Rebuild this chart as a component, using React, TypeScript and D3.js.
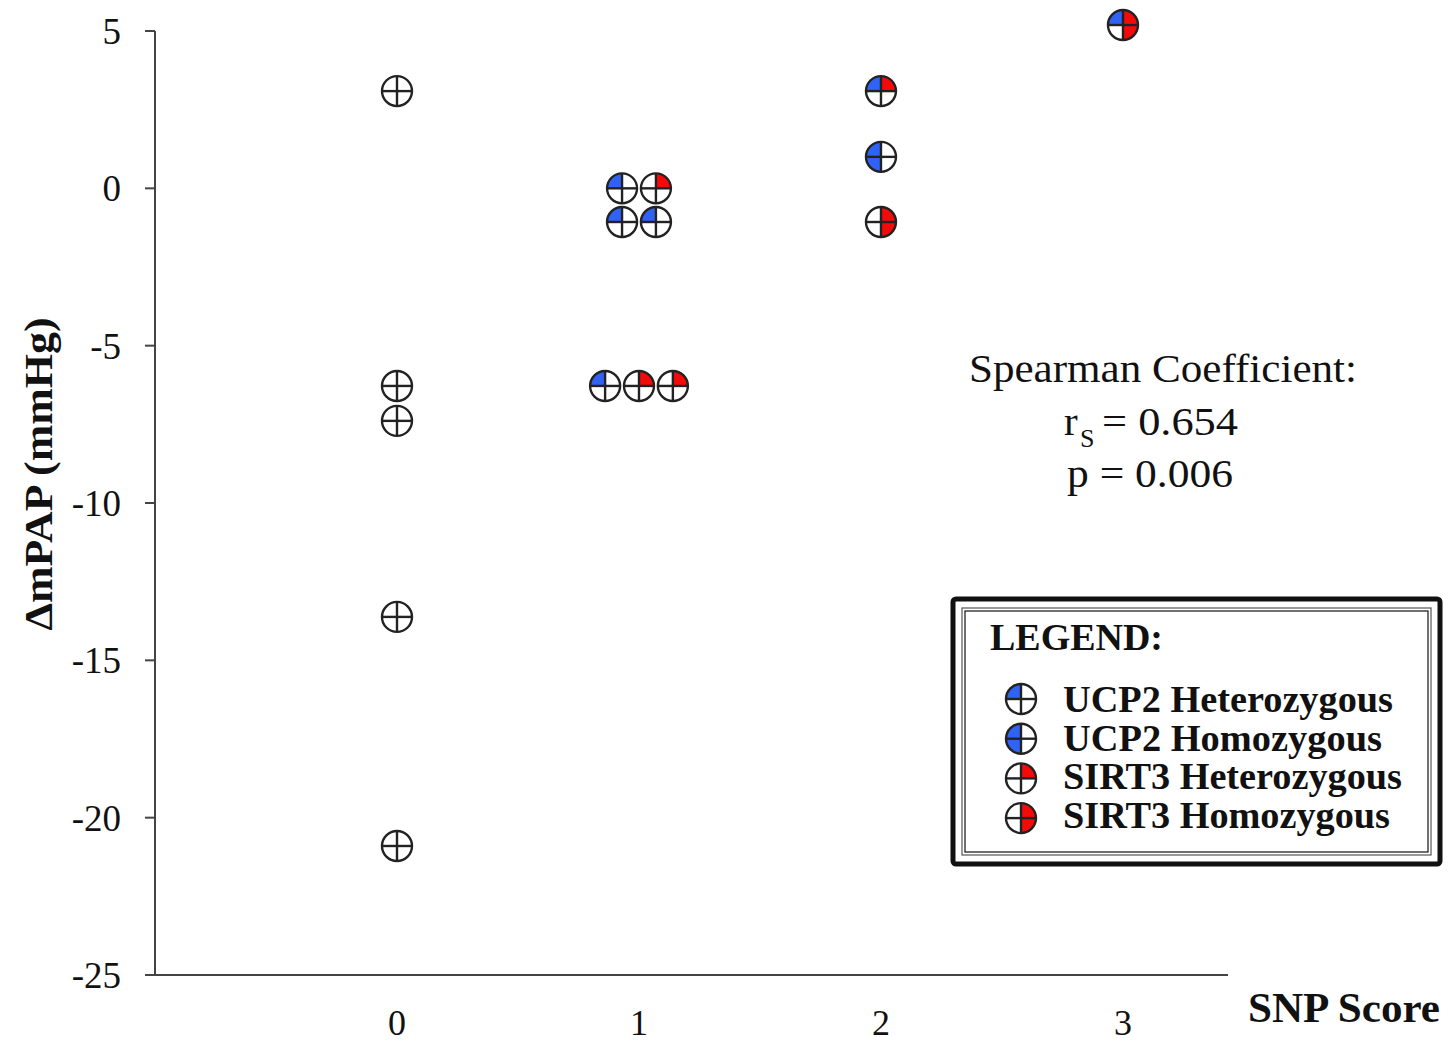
import React from "react";
import * as d3 from "d3";

// Patients: SNP score (with small horizontal spread for overlapping points), ΔmPAP and genotypes
const snpX = [0, 0, 0, 0, 0, 0.93, 1.07, 0.93, 1.07, 0.86, 1.0, 1.14, 2, 2, 2, 3];
const deltaMPAP = [3.09, -6.28, -7.39, -13.62, -20.9, 0, 0, -1.07, -1.07, -6.28, -6.28, -6.28, 3.09, 1.0, -1.07, 5.19];
// 0 = wild type, 1 = heterozygous, 2 = homozygous
const ucp2 = [0, 0, 0, 0, 0, 1, 0, 1, 1, 1, 0, 0, 1, 2, 0, 1];
const sirt3 = [0, 0, 0, 0, 0, 0, 1, 0, 0, 0, 1, 1, 1, 0, 2, 2];

const xTicks = [0, 1, 2, 3];
const yTicks = [5, 0, -5, -10, -15, -20, -25];

const legendLabels = ["UCP2 Heterozygous", "UCP2 Homozygous", "SIRT3 Heterozygous", "SIRT3 Homozygous"];
const legendWidths = [330, 319, 339, 327];
const legendUcp2 = [1, 2, 0, 0];
const legendSirt3 = [0, 0, 1, 2];

const BLUE = "#2f62f5";
const RED = "#f50a0a";
const SERIF = "'Liberation Serif', 'Times New Roman', serif";

const W = 1448;
const H = 1041;

const x = d3.scaleLinear().domain([-1, 3.434]).range([155, 1228]);
const y = d3.scaleLinear().domain([-25, 5]).range([975, 31]);

const R = 15;
const arc = d3.arc<any>().innerRadius(0).outerRadius(R);

function Marker({ cx, cy, u, s }: { cx: number; cy: number; u: number; s: number }) {
  const blue = u === 1 ? arc({ startAngle: -Math.PI / 2, endAngle: 0 }) : u === 2 ? arc({ startAngle: Math.PI, endAngle: 2 * Math.PI }) : null;
  const red = s === 1 ? arc({ startAngle: 0, endAngle: Math.PI / 2 }) : s === 2 ? arc({ startAngle: 0, endAngle: Math.PI }) : null;
  return (
    <g transform={`translate(${cx},${cy})`}>
      <circle r={R} fill="#fff" />
      {blue && <path d={blue} fill={BLUE} />}
      {red && <path d={red} fill={RED} />}
      <line x1={-R} x2={R} y1={0} y2={0} stroke="#222" strokeWidth={2.4} />
      <line x1={0} x2={0} y1={-R} y2={R} stroke="#222" strokeWidth={2.4} />
      <circle r={R} fill="none" stroke="#222" strokeWidth={2.4} />
    </g>
  );
}

export default function App() {
  return (
    <svg width={W} height={H} style={{ position: "absolute", left: 0, top: 0, background: "#fff" }}>
      <rect width={W} height={H} fill="#fff" />
      {/* axes */}
      <line x1={x(-1)} x2={x(-1)} y1={y(5)} y2={y(-25)} stroke="#444" strokeWidth={2} />
      <line x1={x(-1) - 1} x2={1228} y1={y(-25)} y2={y(-25)} stroke="#444" strokeWidth={2} />
      {yTicks.map((t) => (
        <g key={t}>
          <line x1={145} x2={155} y1={y(t)} y2={y(t)} stroke="#444" strokeWidth={2} />
          <text x={121} y={y(t) + 13} textAnchor="end" fontFamily={SERIF} fontSize={37} fill="#111">
            {t}
          </text>
        </g>
      ))}
      {xTicks.map((t) => (
        <text key={t} x={x(t)} y={1035} textAnchor="middle" fontFamily={SERIF} fontSize={36} fill="#111">
          {t}
        </text>
      ))}
      <text x={1248} y={1022} fontFamily={SERIF} fontSize={43} fontWeight="bold" fill="#111" textLength={192} lengthAdjust="spacingAndGlyphs">
        SNP Score
      </text>
      <text
        transform={`translate(52,474) rotate(-90)`}
        textAnchor="middle"
        fontFamily={SERIF}
        fontSize={39}
        fontWeight="bold"
        fill="#111"
        textLength={313}
        lengthAdjust="spacingAndGlyphs"
      >
        ΔmPAP (mmHg)
      </text>

      {/* points */}
      {snpX.map((sx, i) => (
        <Marker key={i} cx={x(sx)} cy={y(deltaMPAP[i])} u={ucp2[i]} s={sirt3[i]} />
      ))}

      {/* statistics */}
      <g fontFamily={SERIF} fill="#111" fontSize={41}>
        <text x={969} y={382} textLength={388} lengthAdjust="spacingAndGlyphs">Spearman Coefficient:</text>
        <text x={1064} y={435}>r</text>
        <text x={1080} y={447} fontSize={26}>S</text>
        <text x={1102} y={435} textLength={136} lengthAdjust="spacingAndGlyphs">= 0.654</text>
        <text x={1067} y={487} textLength={166} lengthAdjust="spacingAndGlyphs">p = 0.006</text>
      </g>

      {/* legend */}
      <rect x={953} y={599} width={487} height={265} fill="#fff" stroke="#111" strokeWidth={5} rx={3} />
      <rect x={962} y={608} width={469} height={247} fill="none" stroke="#555" strokeWidth={1.2} />
      <rect x={965} y={611} width={463} height={241} fill="none" stroke="#111" strokeWidth={1.2} />
      <text x={990} y={650} fontFamily={SERIF} fontSize={37} fontWeight="bold" fill="#111" textLength={173} lengthAdjust="spacingAndGlyphs">
        LEGEND:
      </text>
      {legendLabels.map((lab, i) => (
        <g key={lab}>
          <Marker cx={1021} cy={699 + i * 39.7} u={legendUcp2[i]} s={legendSirt3[i]} />
          <text
            x={1063}
            y={712 + i * 38.7}
            fontFamily={SERIF}
            fontSize={37}
            fontWeight="bold"
            fill="#111"
            textLength={legendWidths[i]}
            lengthAdjust="spacingAndGlyphs"
          >
            {lab}
          </text>
        </g>
      ))}
    </svg>
  );
}
